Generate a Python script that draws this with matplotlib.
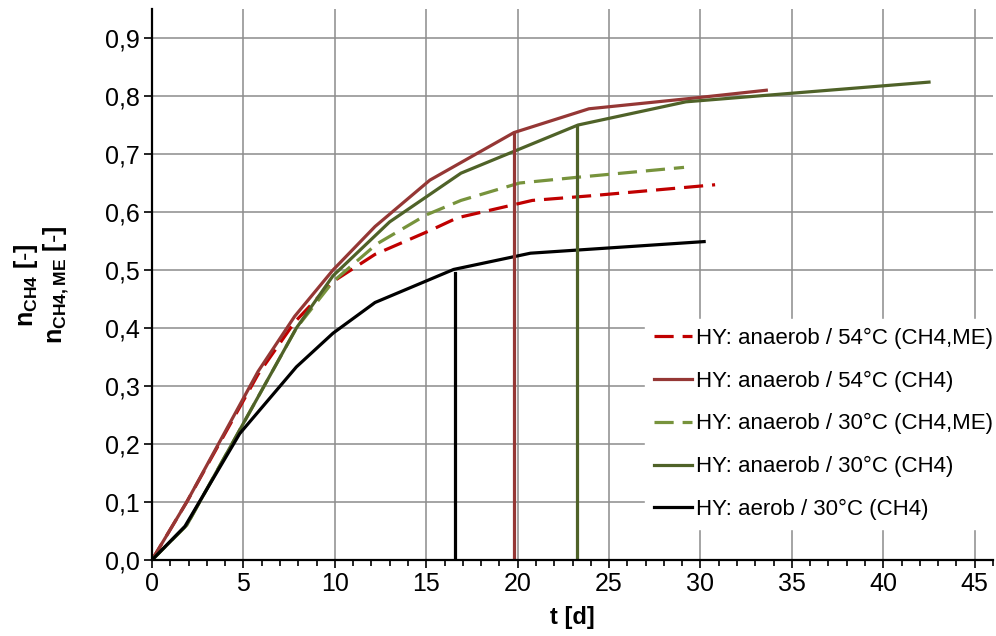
import matplotlib
matplotlib.use("Agg")
import matplotlib.pyplot as plt
from matplotlib.ticker import MultipleLocator, FuncFormatter

plt.rcParams['font.family'] = ['Liberation Sans', 'DejaVu Sans']
plt.rcParams['mathtext.fontset'] = 'custom'
plt.rcParams['mathtext.rm'] = 'Liberation Sans'
plt.rcParams['mathtext.bf'] = 'Liberation Sans:bold'

# Daten
t_54_me = [0, 1.9, 5.8, 7.8, 9.9, 12.2, 15.2, 16.7, 20.8, 24.0, 30.8]
n_54_me = [0, 0.10, 0.32, 0.41, 0.48, 0.527, 0.568, 0.59, 0.62, 0.628, 0.647]

t_54 = [0, 1.9, 5.8, 7.8, 9.9, 12.2, 15.2, 19.8, 23.9, 29.8, 33.6]
n_54 = [0, 0.10, 0.325, 0.42, 0.50, 0.575, 0.655, 0.737, 0.778, 0.797, 0.81]

t_30_me = [0, 1.9, 4.9, 7.9, 9.9, 12.3, 15.0, 16.9, 20.1, 23.3, 29.1]
n_30_me = [0, 0.06, 0.23, 0.40, 0.48, 0.545, 0.595, 0.62, 0.65, 0.66, 0.677]

t_30 = [0, 1.9, 4.9, 7.9, 9.9, 13.0, 16.9, 23.3, 29.2, 42.5]
n_30 = [0, 0.06, 0.23, 0.40, 0.49, 0.583, 0.667, 0.75, 0.79, 0.824]

t_aer = [0, 1.8, 4.8, 7.9, 9.9, 12.2, 16.5, 20.7, 30.2]
n_aer = [0, 0.058, 0.218, 0.333, 0.391, 0.444, 0.501, 0.529, 0.549]

# senkrechte Markierungen (t, n)
mark_t = [16.6, 19.8, 23.25]
mark_n = [0.494, 0.737, 0.749]
mark_farben = ['black', '#953735', '#4F6228']

fig = plt.figure(figsize=(9.96, 6.36), dpi=100)
ax = fig.add_axes([0.1526, 0.1195, 0.8444, 0.8663])

lw = 2.3
ax.plot(t_54_me, n_54_me, color='#C00000', lw=lw, dashes=(6, 2.8),
        label='HY: anaerob / 54°C (CH4,ME)')
ax.plot(t_54, n_54, color='#953735', lw=lw, label='HY: anaerob / 54°C (CH4)')
ax.plot(t_30_me, n_30_me, color='#77933C', lw=lw, dashes=(6, 2.8),
        label='HY: anaerob / 30°C (CH4,ME)')
ax.plot(t_30, n_30, color='#4F6228', lw=lw, label='HY: anaerob / 30°C (CH4)')
ax.plot(t_aer, n_aer, color='black', lw=lw, label='HY: aerob / 30°C (CH4)')

for xt, yn, c in zip(mark_t, mark_n, mark_farben):
    ax.plot([xt, xt], [0, yn], color=c, lw=lw)

ax.set_xlim(0, 46)
ax.set_ylim(0, 0.95)
ax.xaxis.set_major_locator(MultipleLocator(5))
ax.xaxis.set_minor_locator(MultipleLocator(1))
ax.yaxis.set_major_locator(MultipleLocator(0.1))
ax.yaxis.set_major_formatter(FuncFormatter(lambda v, p: ('%.1f' % v).replace('.', ',')))

ax.grid(True, which='major', color='#8c8c8c', lw=1.1)
ax.set_axisbelow(True)
for s in ['top', 'right']:
    ax.spines[s].set_visible(False)
for s in ['left', 'bottom']:
    ax.spines[s].set_linewidth(1.6)
ax.tick_params(axis='both', which='major', labelsize=18, length=6, width=1.2, pad=3)
ax.tick_params(axis='x', which='minor', length=4, width=1.2)

ax.set_xlabel('t [d]', fontsize=17, fontweight='bold', labelpad=7)

fig.text(0.026, 0.552, r'$\mathbf{n}_{\mathbf{CH4}}$ $\mathbf{[\text{-}]}$', rotation=90,
         fontsize=18, ha='center', va='center')
fig.text(0.057, 0.552, r'$\mathbf{n}_{\mathbf{CH4,ME}}$ $\mathbf{[\text{-}]}$', rotation=90,
         fontsize=18, ha='center', va='center')

leg = ax.legend(loc='lower right', bbox_to_anchor=(1.011, 0.056), fontsize=16,
                frameon=True, fancybox=False, edgecolor='white', framealpha=1,
                handlelength=1.7, handletextpad=0.2, labelspacing=0.98,
                borderpad=0.4, borderaxespad=0)

fig.savefig('out.png', dpi=100)
